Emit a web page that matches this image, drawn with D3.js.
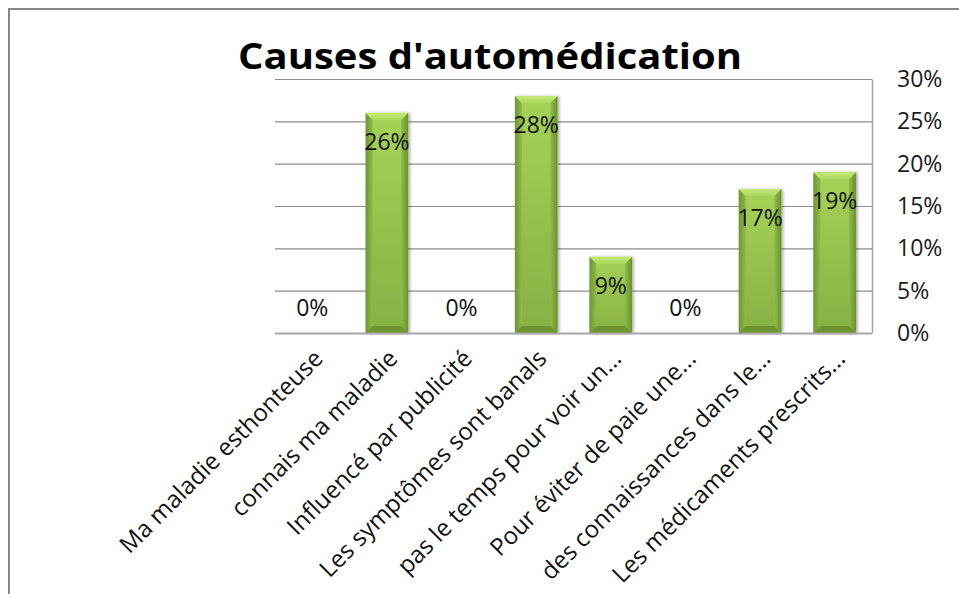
<!DOCTYPE html>
<html>
<head>
<meta charset="utf-8">
<script src="https://cdn.jsdelivr.net/npm/d3@7"></script>
<style>
  html, body { margin: 0; padding: 0; background: #fff; }
  svg { display: block; }
  text { font-family: "Open Sans", "Noto Sans", sans-serif; }
</style>
</head>
<body>
<svg id="chart" width="959" height="594"></svg>
<script>
// Causes d'automédication — share of answers per reason
const categories = [
  "Ma maladie esthonteuse",
  "connais ma maladie",
  "Influencé par publicité",
  "Les symptômes sont banals",
  "pas le temps pour voir un...",
  "Pour éviter de paie une...",
  "des connaissances dans le...",
  "Les médicaments prescrits..."
];
const values = [0, 0.26, 0, 0.28, 0.09, 0, 0.17, 0.19];
const yTicks = [0, 0.05, 0.10, 0.15, 0.20, 0.25, 0.30];
const yTickLabels = ["0%", "5%", "10%", "15%", "20%", "25%", "30%"];
const titleText = "Causes d'automédication";

const W = 959, H = 594;
const plot = { left: 275, right: 872, top: 79, bottom: 333 };

const svg = d3.select("#chart");
const defs = svg.append("defs");

// face gradient (vertical) and side gradients for the bevelled bars
const face = defs.append("linearGradient").attr("id", "face")
  .attr("x1", 0).attr("y1", 0).attr("x2", 0).attr("y2", 1);
face.append("stop").attr("offset", "0%").attr("stop-color", "#a6d257");
face.append("stop").attr("offset", "100%").attr("stop-color", "#87b043");

const sideL = defs.append("linearGradient").attr("id", "sideL")
  .attr("x1", 0).attr("y1", 0).attr("x2", 1).attr("y2", 0);
sideL.append("stop").attr("offset", "0%").attr("stop-color", "#6f9632");
sideL.append("stop").attr("offset", "100%").attr("stop-color", "#8fbb48");

const sideR = defs.append("linearGradient").attr("id", "sideR")
  .attr("x1", 0).attr("y1", 0).attr("x2", 1).attr("y2", 0);
sideR.append("stop").attr("offset", "0%").attr("stop-color", "#8fbb48");
sideR.append("stop").attr("offset", "100%").attr("stop-color", "#6a902f");

const topBevel = defs.append("linearGradient").attr("id", "topBevel")
  .attr("x1", 0).attr("y1", 0).attr("x2", 0).attr("y2", 1);
topBevel.append("stop").attr("offset", "0%").attr("stop-color", "#c4ea7a");
topBevel.append("stop").attr("offset", "100%").attr("stop-color", "#aad75c");

const shadow = defs.append("filter").attr("id", "shadow")
  .attr("x", "-20%").attr("y", "-10%").attr("width", "140%").attr("height", "120%");
shadow.append("feDropShadow").attr("dx", 1.5).attr("dy", 0.5)
  .attr("stdDeviation", 1.5).attr("flood-color", "#000").attr("flood-opacity", 0.35);

// outer frame
svg.append("rect")
  .attr("x", 9).attr("y", 9).attr("width", W + 10).attr("height", H + 10)
  .attr("fill", "none").attr("stroke", "#868686").attr("stroke-width", 2);

// scales
const x = d3.scaleBand().domain(categories)
  .range([plot.left, plot.right])
  .paddingInner(0.43).paddingOuter(0.215);
const y = d3.scaleLinear().domain([0, 0.30]).range([plot.bottom, plot.top]);

// gridlines
svg.append("g").selectAll("line").data(yTicks.filter(d => d > 0)).join("line")
  .attr("x1", plot.left).attr("x2", plot.right)
  .attr("y1", d => y(d) + 0.5).attr("y2", d => y(d) + 0.5)
  .attr("stroke", "#8c8c8c").attr("stroke-width", 1.2);

// right value axis
const yAxis = d3.axisRight(y)
  .tickValues(yTicks)
  .tickFormat((d, i) => yTickLabels[i])
  .tickSize(0).tickPadding(25);
const gy = svg.append("g").attr("transform", `translate(${plot.right},0)`).call(yAxis);
gy.select(".domain").attr("stroke", "#a6a6a6").attr("stroke-width", 1.5);
gy.selectAll("text").attr("font-size", 23).attr("fill", "#1a1a1a")
  .attr("font-family", "'Open Sans', sans-serif");

// bars
const bars = svg.append("g");
categories.forEach((c, i) => {
  const v = values[i];
  if (v <= 0) return;
  const x0 = x(c), x1 = x(c) + x.bandwidth();
  const y0 = y(v), y1 = y(0);
  const b = Math.min(7, (y1 - y0) / 2);
  const g = bars.append("g").attr("filter", "url(#shadow)");
  g.append("rect").attr("x", x0).attr("y", y0)
    .attr("width", x1 - x0).attr("height", y1 - y0).attr("fill", "url(#face)");
  // left and right bevel sides
  g.append("polygon")
    .attr("points", [[x0, y0], [x0 + b, y0 + b], [x0 + b, y1 - b], [x0, y1]].join(" "))
    .attr("fill", "url(#sideL)");
  g.append("polygon")
    .attr("points", [[x1, y0], [x1 - b, y0 + b], [x1 - b, y1 - b], [x1, y1]].join(" "))
    .attr("fill", "url(#sideR)");
  // top bevel (light) and bottom bevel (dark)
  g.append("polygon")
    .attr("points", [[x0, y0], [x1, y0], [x1 - b, y0 + b], [x0 + b, y0 + b]].join(" "))
    .attr("fill", "url(#topBevel)");
  g.append("polygon")
    .attr("points", [[x0, y1], [x1, y1], [x1 - b, y1 - b], [x0 + b, y1 - b]].join(" "))
    .attr("fill", "#6e942f");
});

// category axis baseline
svg.append("line")
  .attr("x1", plot.left).attr("x2", plot.right)
  .attr("y1", y(0) + 0.5).attr("y2", y(0) + 0.5)
  .attr("stroke", "#a6a6a6").attr("stroke-width", 2);

// value labels
const fmt = d3.format(".0%");
svg.append("g").selectAll("text").data(categories).join("text")
  .attr("x", c => x(c) + x.bandwidth() / 2)
  .attr("y", (c, i) => values[i] > 0 ? y(values[i]) + 28 : y(0) - 26)
  .attr("dominant-baseline", "central")
  .attr("text-anchor", "middle")
  .attr("font-size", 23).attr("fill", "#111")
  .text((c, i) => fmt(values[i]));

// rotated category labels
svg.append("g").selectAll("text").data(categories).join("text")
  .attr("transform", c => `translate(${x(c) + x.bandwidth() / 2 + 12},${y(0) + 27}) rotate(-45)`)
  .attr("text-anchor", "end")
  .attr("font-size", 24).attr("fill", "#111")
  .text(c => c);

// title
svg.append("text")
  .attr("x", 490).attr("y", 69)
  .attr("text-anchor", "middle")
  .attr("font-size", 36).attr("font-weight", "bold").attr("fill", "#000")
  .attr("textLength", 504).attr("lengthAdjust", "spacingAndGlyphs")
  .text(titleText);
</script>
</body>
</html>
